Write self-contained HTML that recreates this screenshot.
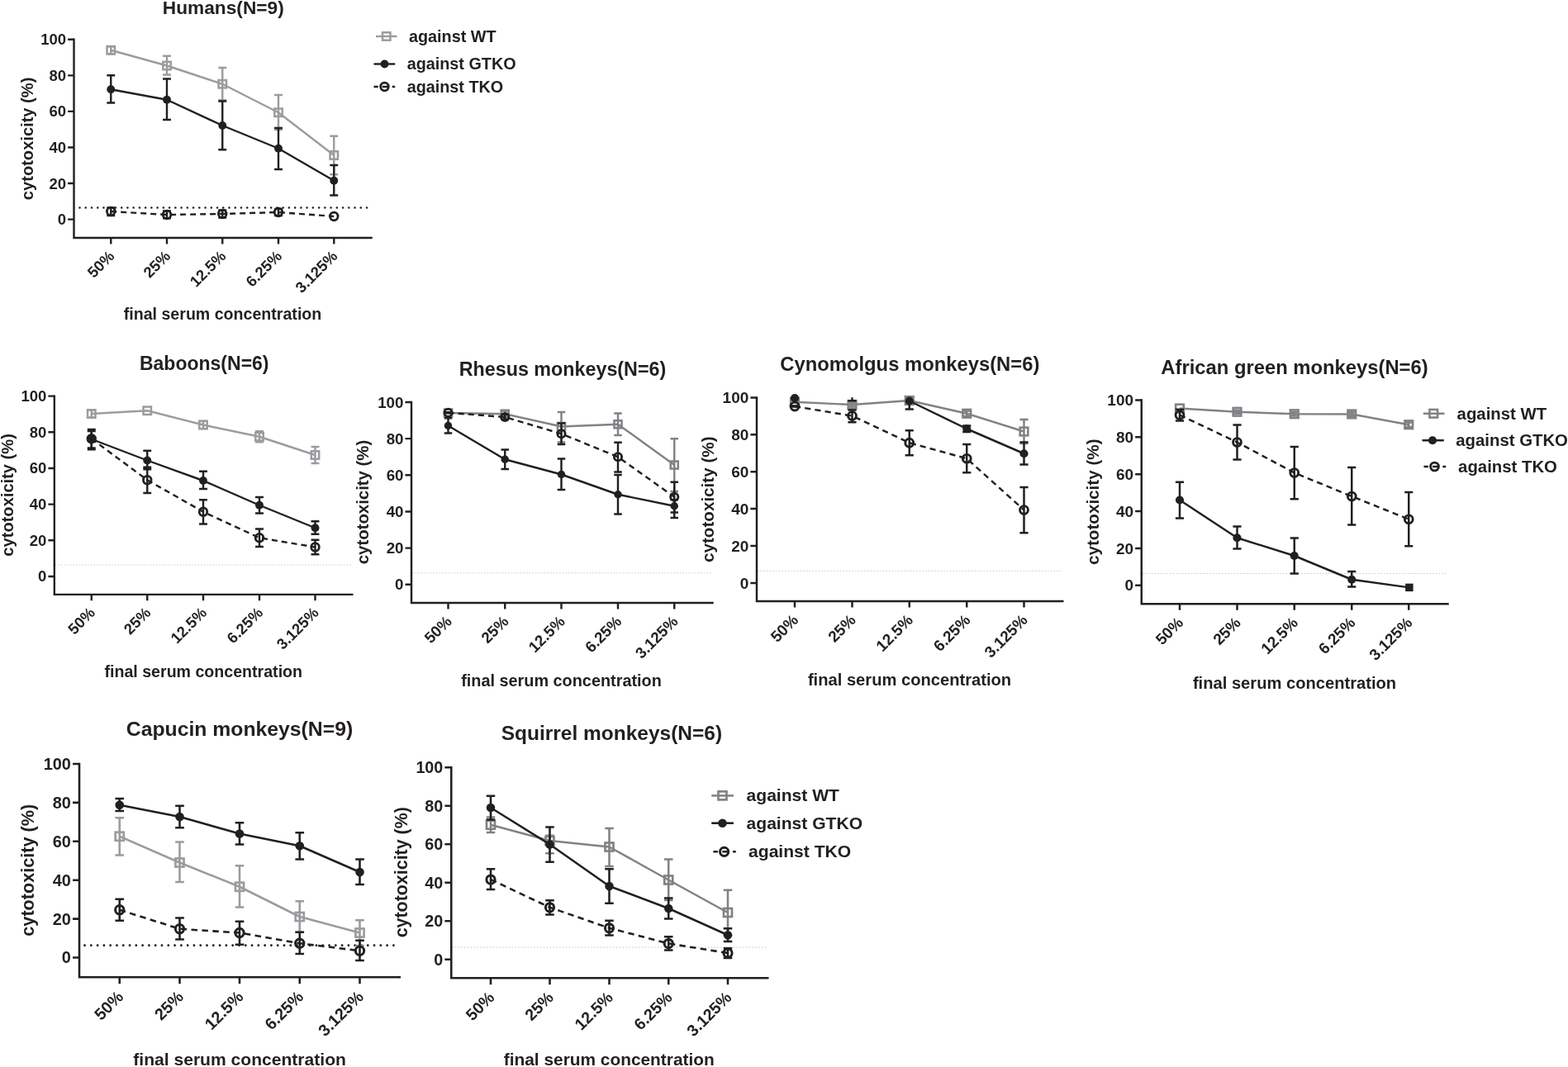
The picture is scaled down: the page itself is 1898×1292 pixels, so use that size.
<!DOCTYPE html>
<html lang="en">
<head>
<meta charset="utf-8">
<title>Cytotoxicity of human and non-human primate sera against WT, GTKO and TKO pig cells</title>
<style>
html,body{margin:0;padding:0;background:#fff;}
body{width:1898px;height:1292px;overflow:hidden;}
svg{display:block;}
svg text{font-family:'Liberation Sans', sans-serif;font-weight:bold;fill:#231f20;}
</style>
</head>
<body>
<svg width="1898" height="1292" viewBox="0 0 1898 1292">
<rect width="1898" height="1292" fill="#ffffff"/>
<g>
<line x1="96.5" y1="251.5" x2="444.5" y2="251.5" stroke="#231f20" stroke-width="2.6" stroke-linecap="round" stroke-dasharray="0.01 7.23"/>
<path d="M89.5 46.6V288H450.75" fill="none" stroke="#231f20" stroke-width="2.4" stroke-linejoin="miter" transform="translate(0 0)"/>
<path d="M82.1 265.6H89.5M82.1 222.04H89.5M82.1 178.48H89.5M82.1 134.92H89.5M82.1 91.36H89.5M82.1 47.8H89.5M134.25 288V295.4M202 288V295.4M269.25 288V295.4M337 288V295.4M404.25 288V295.4" fill="none" stroke="#231f20" stroke-width="2.4"/>
<g font-size="18.5" text-anchor="end">
<text x="80.1" y="272.06">0</text>
<text x="80.1" y="228.5">20</text>
<text x="80.1" y="184.94">40</text>
<text x="80.1" y="141.38">60</text>
<text x="80.1" y="97.82">80</text>
<text x="80.1" y="54.26">100</text>
</g>
<g font-size="18.5" text-anchor="end">
<text transform="translate(139.65 311.3) rotate(-45)">50%</text>
<text transform="translate(207.4 311.3) rotate(-45)">25%</text>
<text transform="translate(274.65 311.3) rotate(-45)">12.5%</text>
<text transform="translate(342.4 311.3) rotate(-45)">6.25%</text>
<text transform="translate(409.65 311.3) rotate(-45)">3.125%</text>
</g>
<text x="270.25" y="16.6" font-size="22.7" text-anchor="middle">Humans(N=9)</text>
<text transform="translate(40 167.9) rotate(-90)" font-size="20.1" text-anchor="middle">cytotoxicity (%)</text>
<text x="269.5" y="387" font-size="19.6" text-anchor="middle">final serum concentration</text>
<g stroke="#9a9c9f" stroke-width="2.4" fill="none">
<path d="M134.25 56.25V65.25M129.3 56.25H139.2M129.3 65.25H139.2M202 67.75V90.5M197.05 67.75H206.95M197.05 90.5H206.95M269.25 82V121.25M264.3 82H274.2M264.3 121.25H274.2M337 115V157M332.05 115H341.95M332.05 157H341.95M404.25 164.75V211.25M399.3 164.75H409.2M399.3 211.25H409.2"/>
<path d="M134.25 60.75L202 79.5L269.25 101.75L337 136.25L404.25 188" stroke-linejoin="round"/>
</g>
<rect x="129.55" y="56.05" width="9.4" height="9.4" fill="none" stroke="#9a9c9f" stroke-width="2.5"/>
<rect x="197.3" y="74.8" width="9.4" height="9.4" fill="none" stroke="#9a9c9f" stroke-width="2.5"/>
<rect x="264.55" y="97.05" width="9.4" height="9.4" fill="none" stroke="#9a9c9f" stroke-width="2.5"/>
<rect x="332.3" y="131.55" width="9.4" height="9.4" fill="none" stroke="#9a9c9f" stroke-width="2.5"/>
<rect x="399.55" y="183.3" width="9.4" height="9.4" fill="none" stroke="#9a9c9f" stroke-width="2.5"/>
<g stroke="#231f20" stroke-width="2.4" fill="none">
<path d="M134.25 91.25V124.5M129.3 91.25H139.2M129.3 124.5H139.2M202 95.5V145M197.05 95.5H206.95M197.05 145H206.95M269.25 122.5V181.25M264.3 122.5H274.2M264.3 181.25H274.2M337 155V205M332.05 155H341.95M332.05 205H341.95M404.25 200V236.5M399.3 200H409.2M399.3 236.5H409.2"/>
<path d="M134.25 108.25L202 120.75L269.25 152L337 179.75L404.25 218.75" stroke-linejoin="round"/>
</g>
<circle cx="134.25" cy="108.25" r="4.95" fill="#231f20"/>
<circle cx="202" cy="120.75" r="4.95" fill="#231f20"/>
<circle cx="269.25" cy="152" r="4.95" fill="#231f20"/>
<circle cx="337" cy="179.75" r="4.95" fill="#231f20"/>
<circle cx="404.25" cy="218.75" r="4.95" fill="#231f20"/>
<g stroke="#231f20" stroke-width="2.4" fill="none">
<path d="M134.25 251.38V261M129.3 251.38H139.2M129.3 261H139.2M202 255.5V264.25M197.05 255.5H206.95M197.05 264.25H206.95M269.25 254.5V263.5M264.3 254.5H274.2M264.3 263.5H274.2M337 253V261M332.05 253H341.95M332.05 261H341.95"/>
<path d="M134.25 256L202 260L269.25 259L337 257L404.25 262" stroke-linejoin="round" stroke-dasharray="7 5"/>
</g>
<circle cx="134.25" cy="256" r="4.8" fill="none" stroke="#231f20" stroke-width="2.8"/>
<circle cx="202" cy="260" r="4.8" fill="none" stroke="#231f20" stroke-width="2.8"/>
<circle cx="269.25" cy="259" r="4.8" fill="none" stroke="#231f20" stroke-width="2.8"/>
<circle cx="337" cy="257" r="4.8" fill="none" stroke="#231f20" stroke-width="2.8"/>
<circle cx="404.25" cy="262" r="4.8" fill="none" stroke="#231f20" stroke-width="2.8"/>
<line x1="455" y1="44" x2="480.5" y2="44" stroke="#9a9c9f" stroke-width="2.4"/>
<rect x="463.05" y="39.3" width="9.4" height="9.4" fill="none" stroke="#9a9c9f" stroke-width="2.5"/>
<text x="495" y="50.5" font-size="19.8">against WT</text>
<line x1="452.5" y1="77.5" x2="478.25" y2="77.5" stroke="#231f20" stroke-width="2.4"/>
<circle cx="465.5" cy="77.5" r="4.95" fill="#231f20"/>
<text x="492.7" y="84.1" font-size="19.8">against GTKO</text>
<line x1="452.5" y1="105" x2="478.25" y2="105" stroke="#231f20" stroke-width="2.4" stroke-dasharray="7 5" stroke-dashoffset="1.8"/>
<circle cx="465.5" cy="105" r="4.8" fill="none" stroke="#231f20" stroke-width="2.8"/>
<text x="492.7" y="111.7" font-size="19.8">against TKO</text>
</g>
<g>
<line x1="67" y1="684" x2="425" y2="684" stroke="#a9abad" stroke-width="0.9" stroke-dasharray="1 2.6"/>
<path d="M65.8 478.4V719.9H427.5" fill="none" stroke="#231f20" stroke-width="2.4" stroke-linejoin="miter" transform="translate(0 0)"/>
<path d="M58.4 698H65.8M58.4 654.32H65.8M58.4 610.64H65.8M58.4 566.96H65.8M58.4 523.28H65.8M58.4 479.6H65.8M110.75 719.9V727.3M178.25 719.9V727.3M246 719.9V727.3M314 719.9V727.3M381.5 719.9V727.3" fill="none" stroke="#231f20" stroke-width="2.4"/>
<g font-size="18.5" text-anchor="end">
<text x="56.4" y="704.46">0</text>
<text x="56.4" y="660.78">20</text>
<text x="56.4" y="617.1">40</text>
<text x="56.4" y="573.42">60</text>
<text x="56.4" y="529.74">80</text>
<text x="56.4" y="486.06">100</text>
</g>
<g font-size="18.5" text-anchor="end">
<text transform="translate(116.15 743.2) rotate(-45)">50%</text>
<text transform="translate(183.65 743.2) rotate(-45)">25%</text>
<text transform="translate(251.4 743.2) rotate(-45)">12.5%</text>
<text transform="translate(319.4 743.2) rotate(-45)">6.25%</text>
<text transform="translate(386.9 743.2) rotate(-45)">3.125%</text>
</g>
<text x="247.25" y="448" font-size="23" text-anchor="middle">Baboons(N=6)</text>
<text transform="translate(16.4 599.4) rotate(-90)" font-size="20.1" text-anchor="middle">cytotoxicity (%)</text>
<text x="246.25" y="820" font-size="19.6" text-anchor="middle">final serum concentration</text>
<g stroke="#9a9c9f" stroke-width="2.4" fill="none">
<path d="M110.75 496.4V505.6M105.8 496.4H115.7M105.8 505.6H115.7M246 509.9V519.1M241.05 509.9H250.95M241.05 519.1H250.95M314 522.1V535.4M309.05 522.1H318.95M309.05 535.4H318.95M381.5 541V561M376.55 541H386.45M376.55 561H386.45"/>
<path d="M110.75 501L178.25 497.25L246 514.5L314 528.75L381.5 551" stroke-linejoin="round"/>
</g>
<rect x="106.05" y="496.3" width="9.4" height="9.4" fill="none" stroke="#9a9c9f" stroke-width="2.5"/>
<rect x="173.55" y="492.55" width="9.4" height="9.4" fill="none" stroke="#9a9c9f" stroke-width="2.5"/>
<rect x="241.3" y="509.8" width="9.4" height="9.4" fill="none" stroke="#9a9c9f" stroke-width="2.5"/>
<rect x="309.3" y="524.05" width="9.4" height="9.4" fill="none" stroke="#9a9c9f" stroke-width="2.5"/>
<rect x="376.8" y="546.3" width="9.4" height="9.4" fill="none" stroke="#9a9c9f" stroke-width="2.5"/>
<g stroke="#231f20" stroke-width="2.4" fill="none">
<path d="M110.75 520V544.25M105.8 520H115.7M105.8 544.25H115.7M178.25 545.75V568.25M173.3 545.75H183.2M173.3 568.25H183.2M246 570.75V592M241.05 570.75H250.95M241.05 592H250.95M314 602V621.5M309.05 602H318.95M309.05 621.5H318.95M381.5 631.25V646.75M376.55 631.25H386.45M376.55 646.75H386.45"/>
<path d="M110.75 531.75L178.25 557.5L246 582L314 611.75L381.5 639.25" stroke-linejoin="round"/>
</g>
<circle cx="110.75" cy="531.75" r="4.95" fill="#231f20"/>
<circle cx="178.25" cy="557.5" r="4.95" fill="#231f20"/>
<circle cx="246" cy="582" r="4.95" fill="#231f20"/>
<circle cx="314" cy="611.75" r="4.95" fill="#231f20"/>
<circle cx="381.5" cy="639.25" r="4.95" fill="#231f20"/>
<g stroke="#231f20" stroke-width="2.4" fill="none">
<path d="M110.75 522V542.5M105.8 522H115.7M105.8 542.5H115.7M178.25 565.75V597M173.3 565.75H183.2M173.3 597H183.2M246 605.25V634.5M241.05 605.25H250.95M241.05 634.5H250.95M314 640.5V662M309.05 640.5H318.95M309.05 662H318.95M381.5 653.75V671.25M376.55 653.75H386.45M376.55 671.25H386.45"/>
<path d="M110.75 531.25L178.25 581.25L246 619.75L314 651.25L381.5 662.5" stroke-linejoin="round" stroke-dasharray="7 5"/>
</g>
<circle cx="110.75" cy="531.25" r="4.8" fill="none" stroke="#231f20" stroke-width="2.8"/>
<circle cx="178.25" cy="581.25" r="4.8" fill="none" stroke="#231f20" stroke-width="2.8"/>
<circle cx="246" cy="619.75" r="4.8" fill="none" stroke="#231f20" stroke-width="2.8"/>
<circle cx="314" cy="651.25" r="4.8" fill="none" stroke="#231f20" stroke-width="2.8"/>
<circle cx="381.5" cy="662.5" r="4.8" fill="none" stroke="#231f20" stroke-width="2.8"/>
</g>
<g>
<line x1="499" y1="693.75" x2="861" y2="693.75" stroke="#a9abad" stroke-width="0.91" stroke-dasharray="1.01 2.63"/>
<path d="M498 485.78V730H863.75" fill="none" stroke="#231f20" stroke-width="2.43" stroke-linejoin="miter" transform="translate(0 0)"/>
<path d="M490.5 707.75H498M490.5 663.6H498M490.5 619.45H498M490.5 575.3H498M490.5 531.15H498M490.5 487H498M542.5 730V737.5M611.25 730V737.5M679.5 730V737.5M748 730V737.5M816.25 730V737.5" fill="none" stroke="#231f20" stroke-width="2.43"/>
<g font-size="18.74" text-anchor="end">
<text x="488.48" y="714.29">0</text>
<text x="488.48" y="670.14">20</text>
<text x="488.48" y="625.99">40</text>
<text x="488.48" y="581.84">60</text>
<text x="488.48" y="537.69">80</text>
<text x="488.48" y="493.54">100</text>
</g>
<g font-size="18.74" text-anchor="end">
<text transform="translate(547.97 753.6) rotate(-45)">50%</text>
<text transform="translate(616.72 753.6) rotate(-45)">25%</text>
<text transform="translate(684.97 753.6) rotate(-45)">12.5%</text>
<text transform="translate(753.47 753.6) rotate(-45)">6.25%</text>
<text transform="translate(821.72 753.6) rotate(-45)">3.125%</text>
</g>
<text x="681" y="455" font-size="23.3" text-anchor="middle">Rhesus monkeys(N=6)</text>
<text transform="translate(446 608) rotate(-90)" font-size="20.36" text-anchor="middle">cytotoxicity (%)</text>
<text x="679.5" y="831" font-size="19.85" text-anchor="middle">final serum concentration</text>
<g stroke="#808285" stroke-width="2.43" fill="none">
<path d="M611.25 497.5V505M606.49 497.5H616.01M606.49 505H616.01M679.5 499V535.5M674.74 499H684.26M674.74 535.5H684.26M748 500.5V527M743.24 500.5H752.76M743.24 527H752.76M816.25 531.25V595M811.49 531.25H821.01M811.49 595H821.01"/>
<path d="M542.5 500L611.25 501.25L679.5 516.5L748 513.75L816.25 563" stroke-linejoin="round"/>
</g>
<rect x="537.98" y="495.48" width="9.05" height="9.05" fill="none" stroke="#808285" stroke-width="2.53"/>
<rect x="606.73" y="496.73" width="9.05" height="9.05" fill="none" stroke="#808285" stroke-width="2.53"/>
<rect x="674.98" y="511.98" width="9.05" height="9.05" fill="none" stroke="#808285" stroke-width="2.53"/>
<rect x="743.48" y="509.23" width="9.05" height="9.05" fill="none" stroke="#808285" stroke-width="2.53"/>
<rect x="811.73" y="558.48" width="9.05" height="9.05" fill="none" stroke="#808285" stroke-width="2.53"/>
<g stroke="#231f20" stroke-width="2.43" fill="none">
<path d="M542.5 506.25V524.5M537.74 506.25H547.26M537.74 524.5H547.26M611.25 544.5V568M606.49 544.5H616.01M606.49 568H616.01M679.5 555.5V593M674.74 555.5H684.26M674.74 593H684.26M748 575V622.5M743.24 575H752.76M743.24 622.5H752.76M816.25 605V620.5M811.49 605H821.01M811.49 620.5H821.01"/>
<path d="M542.5 515.5L611.25 556.25L679.5 574.5L748 598.75L816.25 612.75" stroke-linejoin="round"/>
</g>
<circle cx="542.5" cy="515.5" r="4.76" fill="#231f20"/>
<circle cx="611.25" cy="556.25" r="4.76" fill="#231f20"/>
<circle cx="679.5" cy="574.5" r="4.76" fill="#231f20"/>
<circle cx="748" cy="598.75" r="4.76" fill="#231f20"/>
<circle cx="816.25" cy="612.75" r="4.76" fill="#231f20"/>
<g stroke="#231f20" stroke-width="2.43" fill="none">
<path d="M542.5 499.25V500.25M537.74 499.25H547.26M537.74 500.25H547.26M611.25 502V508M606.49 502H616.01M606.49 508H616.01M679.5 512.5V538M674.74 512.5H684.26M674.74 538H684.26M748 535.75V571.5M743.24 535.75H752.76M743.24 571.5H752.76M816.25 583.75V627M811.49 583.75H821.01M811.49 627H821.01"/>
<path d="M542.5 499.75L611.25 505L679.5 525.25L748 553.25L816.25 601.75" stroke-linejoin="round" stroke-dasharray="7.09 5.06"/>
</g>
<circle cx="542.5" cy="499.75" r="4.62" fill="none" stroke="#231f20" stroke-width="2.84"/>
<circle cx="611.25" cy="505" r="4.62" fill="none" stroke="#231f20" stroke-width="2.84"/>
<circle cx="679.5" cy="525.25" r="4.62" fill="none" stroke="#231f20" stroke-width="2.84"/>
<circle cx="748" cy="553.25" r="4.62" fill="none" stroke="#231f20" stroke-width="2.84"/>
<circle cx="816.25" cy="601.75" r="4.62" fill="none" stroke="#231f20" stroke-width="2.84"/>
</g>
<g>
<line x1="917" y1="691.25" x2="1286" y2="691.25" stroke="#a9abad" stroke-width="0.93" stroke-dasharray="1.03 2.67"/>
<path d="M916 480.17V728H1287.5" fill="none" stroke="#231f20" stroke-width="2.47" stroke-linejoin="miter" transform="translate(0 0)"/>
<path d="M908.39 705.9H916M908.39 661H916M908.39 616.1H916M908.39 571.2H916M908.39 526.3H916M908.39 481.4H916M962 728V735.61M1031.5 728V735.61M1100.75 728V735.61M1170.25 728V735.61M1239.5 728V735.61" fill="none" stroke="#231f20" stroke-width="2.47"/>
<g font-size="19.02" text-anchor="end">
<text x="906.34" y="712.54">0</text>
<text x="906.34" y="667.64">20</text>
<text x="906.34" y="622.74">40</text>
<text x="906.34" y="577.84">60</text>
<text x="906.34" y="532.94">80</text>
<text x="906.34" y="488.04">100</text>
</g>
<g font-size="19.02" text-anchor="end">
<text transform="translate(967.55 751.95) rotate(-45)">50%</text>
<text transform="translate(1037.05 751.95) rotate(-45)">25%</text>
<text transform="translate(1106.3 751.95) rotate(-45)">12.5%</text>
<text transform="translate(1175.8 751.95) rotate(-45)">6.25%</text>
<text transform="translate(1245.05 751.95) rotate(-45)">3.125%</text>
</g>
<text x="1101.3" y="448.75" font-size="23.8" text-anchor="middle">Cynomolgus monkeys(N=6)</text>
<text transform="translate(863.75 604.75) rotate(-90)" font-size="20.66" text-anchor="middle">cytotoxicity (%)</text>
<text x="1101" y="830" font-size="20.15" text-anchor="middle">final serum concentration</text>
<g stroke="#808285" stroke-width="2.47" fill="none">
<path d="M1031.5 487.5V492.5M1026.41 487.5H1036.59M1026.41 492.5H1036.59M1100.75 482.5V487.5M1095.66 482.5H1105.84M1095.66 487.5H1105.84M1170.25 497.5V504M1165.16 497.5H1175.34M1165.16 504H1175.34M1239.5 508V537M1234.41 508H1244.59M1234.41 537H1244.59"/>
<path d="M962 486.75L1031.5 490L1100.75 485L1170.25 500.75L1239.5 522.5" stroke-linejoin="round"/>
</g>
<rect x="957.17" y="481.92" width="9.66" height="9.66" fill="none" stroke="#808285" stroke-width="2.57"/>
<rect x="1026.67" y="485.17" width="9.66" height="9.66" fill="none" stroke="#808285" stroke-width="2.57"/>
<rect x="1095.92" y="480.17" width="9.66" height="9.66" fill="none" stroke="#808285" stroke-width="2.57"/>
<rect x="1165.42" y="495.92" width="9.66" height="9.66" fill="none" stroke="#808285" stroke-width="2.57"/>
<rect x="1234.67" y="517.67" width="9.66" height="9.66" fill="none" stroke="#808285" stroke-width="2.57"/>
<g stroke="#231f20" stroke-width="2.47" fill="none">
<path d="M1031.5 481.2V485.2M1026.41 485.2H1036.59M1100.75 481.5V495.5M1095.66 495.5H1105.84M1170.25 515.5V523M1165.16 515.5H1175.34M1165.16 523H1175.34M1239.5 535.5V562.5M1234.41 535.5H1244.59M1234.41 562.5H1244.59"/>
<path d="M1100.75 485.5L1170.25 519.25L1239.5 549.25" stroke-linejoin="round"/>
</g>
<circle cx="962" cy="482.1" r="5.09" fill="#231f20"/>
<circle cx="1100.75" cy="485.5" r="5.09" fill="#231f20"/>
<circle cx="1170.25" cy="519.25" r="5.09" fill="#231f20"/>
<circle cx="1239.5" cy="549.25" r="5.09" fill="#231f20"/>
<g stroke="#231f20" stroke-width="2.47" fill="none">
<path d="M962 491.6V492.6M956.91 491.6H967.09M956.91 492.6H967.09M1031.5 496.4V511.2M1026.41 496.4H1036.59M1026.41 511.2H1036.59M1100.75 521.2V551.2M1095.66 521.2H1105.84M1095.66 551.2H1105.84M1170.25 538V572.25M1165.16 538H1175.34M1165.16 572.25H1175.34M1239.5 590V645.25M1234.41 590H1244.59M1234.41 645.25H1244.59"/>
<path d="M962 492.1L1031.5 503.6L1100.75 536.2L1170.25 555.25L1239.5 617.5" stroke-linejoin="round" stroke-dasharray="7.2 5.14"/>
</g>
<circle cx="962" cy="492.1" r="4.93" fill="none" stroke="#231f20" stroke-width="2.88"/>
<circle cx="1031.5" cy="503.6" r="4.93" fill="none" stroke="#231f20" stroke-width="2.88"/>
<circle cx="1100.75" cy="536.2" r="4.93" fill="none" stroke="#231f20" stroke-width="2.88"/>
<circle cx="1170.25" cy="555.25" r="4.93" fill="none" stroke="#231f20" stroke-width="2.88"/>
<circle cx="1239.5" cy="617.5" r="4.93" fill="none" stroke="#231f20" stroke-width="2.88"/>
</g>
<g>
<line x1="1383" y1="694.5" x2="1752" y2="694.5" stroke="#a9abad" stroke-width="0.93" stroke-dasharray="1.03 2.67"/>
<path d="M1381.75 483.27V731.25H1753.75" fill="none" stroke="#231f20" stroke-width="2.47" stroke-linejoin="miter" transform="translate(0 0)"/>
<path d="M1374.14 708.75H1381.75M1374.14 663.9H1381.75M1374.14 619.05H1381.75M1374.14 574.2H1381.75M1374.14 529.35H1381.75M1374.14 484.5H1381.75M1428 731.25V738.86M1497.5 731.25V738.86M1566.75 731.25V738.86M1636.25 731.25V738.86M1705.25 731.25V738.86" fill="none" stroke="#231f20" stroke-width="2.47"/>
<g font-size="19.02" text-anchor="end">
<text x="1372.09" y="715.39">0</text>
<text x="1372.09" y="670.54">20</text>
<text x="1372.09" y="625.69">40</text>
<text x="1372.09" y="580.84">60</text>
<text x="1372.09" y="535.99">80</text>
<text x="1372.09" y="491.14">100</text>
</g>
<g font-size="19.02" text-anchor="end">
<text transform="translate(1433.55 755.2) rotate(-45)">50%</text>
<text transform="translate(1503.05 755.2) rotate(-45)">25%</text>
<text transform="translate(1572.3 755.2) rotate(-45)">12.5%</text>
<text transform="translate(1641.8 755.2) rotate(-45)">6.25%</text>
<text transform="translate(1710.8 755.2) rotate(-45)">3.125%</text>
</g>
<text x="1567" y="452.5" font-size="23.8" text-anchor="middle">African green monkeys(N=6)</text>
<text transform="translate(1329.5 607.75) rotate(-90)" font-size="20.66" text-anchor="middle">cytotoxicity (%)</text>
<text x="1567" y="833.6" font-size="20.15" text-anchor="middle">final serum concentration</text>
<g stroke="#808285" stroke-width="2.47" fill="none">
<path d="M1497.5 496.75V500.75M1492.41 496.75H1502.59M1492.41 500.75H1502.59M1566.75 499V503.5M1561.66 499H1571.84M1561.66 503.5H1571.84M1636.25 499.25V503.75M1631.16 499.25H1641.34M1631.16 503.75H1641.34M1705.25 511.5V517M1700.16 511.5H1710.34M1700.16 517H1710.34"/>
<path d="M1428 494.5L1497.5 498.75L1566.75 501.25L1636.25 501.5L1705.25 514.25" stroke-linejoin="round"/>
</g>
<rect x="1423.17" y="489.67" width="9.66" height="9.66" fill="none" stroke="#808285" stroke-width="2.57"/>
<rect x="1492.67" y="493.92" width="9.66" height="9.66" fill="none" stroke="#808285" stroke-width="2.57"/>
<rect x="1561.92" y="496.42" width="9.66" height="9.66" fill="none" stroke="#808285" stroke-width="2.57"/>
<rect x="1631.42" y="496.67" width="9.66" height="9.66" fill="none" stroke="#808285" stroke-width="2.57"/>
<rect x="1700.42" y="509.42" width="9.66" height="9.66" fill="none" stroke="#808285" stroke-width="2.57"/>
<g stroke="#231f20" stroke-width="2.47" fill="none">
<path d="M1428 583.75V627.5M1422.91 583.75H1433.09M1422.91 627.5H1433.09M1497.5 637.5V664.5M1492.41 637.5H1502.59M1492.41 664.5H1502.59M1566.75 651.5V694.5M1561.66 651.5H1571.84M1561.66 694.5H1571.84M1636.25 692V710.5M1631.16 692H1641.34M1631.16 710.5H1641.34"/>
<path d="M1428 605.5L1497.5 651.25L1566.75 673L1636.25 701.75L1705.88 711.38" stroke-linejoin="round"/>
</g>
<circle cx="1428" cy="605.5" r="5.09" fill="#231f20"/>
<circle cx="1497.5" cy="651.25" r="5.09" fill="#231f20"/>
<circle cx="1566.75" cy="673" r="5.09" fill="#231f20"/>
<circle cx="1636.25" cy="701.75" r="5.09" fill="#231f20"/>
<rect x="1701.15" y="706.65" width="9.46" height="9.46" fill="#231f20"/>
<g stroke="#231f20" stroke-width="2.47" fill="none">
<path d="M1428 495.75V509.5M1422.91 495.75H1433.09M1422.91 509.5H1433.09M1497.5 514.5V556.5M1492.41 514.5H1502.59M1492.41 556.5H1502.59M1566.75 541V604.25M1561.66 541H1571.84M1561.66 604.25H1571.84M1636.25 566V635.5M1631.16 566H1641.34M1631.16 635.5H1641.34M1705.25 596V661.25M1700.16 596H1710.34M1700.16 661.25H1710.34"/>
<path d="M1428 502.5L1497.5 535.5L1566.75 572.5L1636.25 601L1705.25 628.75" stroke-linejoin="round" stroke-dasharray="7.2 5.14"/>
</g>
<circle cx="1428" cy="502.5" r="4.93" fill="none" stroke="#231f20" stroke-width="2.88"/>
<circle cx="1497.5" cy="535.5" r="4.93" fill="none" stroke="#231f20" stroke-width="2.88"/>
<circle cx="1566.75" cy="572.5" r="4.93" fill="none" stroke="#231f20" stroke-width="2.88"/>
<circle cx="1636.25" cy="601" r="4.93" fill="none" stroke="#231f20" stroke-width="2.88"/>
<circle cx="1705.25" cy="628.75" r="4.93" fill="none" stroke="#231f20" stroke-width="2.88"/>
<line x1="1722.75" y1="500.75" x2="1748.5" y2="500.75" stroke="#808285" stroke-width="2.47"/>
<rect x="1730.42" y="495.92" width="9.66" height="9.66" fill="none" stroke="#808285" stroke-width="2.57"/>
<text x="1763.6" y="507.7" font-size="20.35">against WT</text>
<line x1="1721.5" y1="533.25" x2="1747.75" y2="533.25" stroke="#231f20" stroke-width="2.47"/>
<circle cx="1734" cy="533.25" r="5.09" fill="#231f20"/>
<text x="1762.3" y="539.7" font-size="20.35">against GTKO</text>
<line x1="1723.5" y1="565" x2="1750.25" y2="565" stroke="#231f20" stroke-width="2.47" stroke-dasharray="7.2 5.14" stroke-dashoffset="1.85"/>
<circle cx="1736.5" cy="565" r="4.93" fill="none" stroke="#231f20" stroke-width="2.88"/>
<text x="1765.1" y="571.7" font-size="20.35">against TKO</text>
</g>
<g>
<line x1="102.5" y1="1144.75" x2="478" y2="1144.75" stroke="#231f20" stroke-width="2.8" stroke-linecap="round" stroke-dasharray="0.01 7.78"/>
<path d="M96 923.71V1183.25H485" fill="none" stroke="#231f20" stroke-width="2.58" stroke-linejoin="miter" transform="translate(0 0)"/>
<path d="M88.04 1159.5H96M88.04 1112.6H96M88.04 1065.7H96M88.04 1018.8H96M88.04 971.9H96M88.04 925H96M144.75 1183.25V1191.21M217.5 1183.25V1191.21M290 1183.25V1191.21M362.75 1183.25V1191.21M435.5 1183.25V1191.21" fill="none" stroke="#231f20" stroke-width="2.58"/>
<g font-size="19.91" text-anchor="end">
<text x="85.89" y="1166.45">0</text>
<text x="85.89" y="1119.55">20</text>
<text x="85.89" y="1072.65">40</text>
<text x="85.89" y="1025.75">60</text>
<text x="85.89" y="978.85">80</text>
<text x="85.89" y="931.95">100</text>
</g>
<g font-size="19.91" text-anchor="end">
<text transform="translate(150.56 1208.32) rotate(-45)">50%</text>
<text transform="translate(223.31 1208.32) rotate(-45)">25%</text>
<text transform="translate(295.81 1208.32) rotate(-45)">12.5%</text>
<text transform="translate(368.56 1208.32) rotate(-45)">6.25%</text>
<text transform="translate(441.31 1208.32) rotate(-45)">3.125%</text>
</g>
<text x="290" y="890.5" font-size="24.75" text-anchor="middle">Capucin monkeys(N=9)</text>
<text transform="translate(41.25 1053.75) rotate(-90)" font-size="21.63" text-anchor="middle">cytotoxicity (%)</text>
<text x="290.1" y="1289.75" font-size="21.09" text-anchor="middle">final serum concentration</text>
<g stroke="#9a9c9f" stroke-width="2.58" fill="none">
<path d="M144.75 990.25V1035.5M139.42 990.25H150.08M139.42 1035.5H150.08M217.5 1019.5V1068M212.17 1019.5H222.83M212.17 1068H222.83M290 1048.25V1098.5M284.67 1048.25H295.33M284.67 1098.5H295.33M362.75 1091.25V1128.75M357.42 1091.25H368.08M357.42 1128.75H368.08M435.5 1114.25V1145M430.17 1114.25H440.83M430.17 1145H440.83"/>
<path d="M144.75 1012.75L217.5 1044.5L290 1073.75L362.75 1110L435.5 1129.5" stroke-linejoin="round"/>
</g>
<rect x="139.69" y="1007.69" width="10.11" height="10.11" fill="none" stroke="#9a9c9f" stroke-width="2.69"/>
<rect x="212.44" y="1039.44" width="10.11" height="10.11" fill="none" stroke="#9a9c9f" stroke-width="2.69"/>
<rect x="284.94" y="1068.69" width="10.11" height="10.11" fill="none" stroke="#9a9c9f" stroke-width="2.69"/>
<rect x="357.69" y="1104.94" width="10.11" height="10.11" fill="none" stroke="#9a9c9f" stroke-width="2.69"/>
<rect x="430.44" y="1124.44" width="10.11" height="10.11" fill="none" stroke="#9a9c9f" stroke-width="2.69"/>
<g stroke="#231f20" stroke-width="2.58" fill="none">
<path d="M144.75 967V982M139.42 967H150.08M139.42 982H150.08M217.5 975.75V1002.25M212.17 975.75H222.83M212.17 1002.25H222.83M290 996.25V1022.5M284.67 996.25H295.33M284.67 1022.5H295.33M362.75 1008.25V1040.5M357.42 1008.25H368.08M357.42 1040.5H368.08M435.5 1040.5V1071M430.17 1040.5H440.83M430.17 1071H440.83"/>
<path d="M144.75 974.75L217.5 989L290 1009.5L362.75 1024.25L435.5 1056" stroke-linejoin="round"/>
</g>
<circle cx="144.75" cy="974.75" r="5.33" fill="#231f20"/>
<circle cx="217.5" cy="989" r="5.33" fill="#231f20"/>
<circle cx="290" cy="1009.5" r="5.33" fill="#231f20"/>
<circle cx="362.75" cy="1024.25" r="5.33" fill="#231f20"/>
<circle cx="435.5" cy="1056" r="5.33" fill="#231f20"/>
<g stroke="#231f20" stroke-width="2.58" fill="none">
<path d="M144.75 1088.75V1114.75M139.42 1088.75H150.08M139.42 1114.75H150.08M217.5 1111.5V1137.5M212.17 1111.5H222.83M212.17 1137.5H222.83M290 1115.75V1143.75M284.67 1115.75H295.33M284.67 1143.75H295.33M362.75 1128.75V1155M357.42 1128.75H368.08M357.42 1155H368.08M435.5 1138.75V1163M430.17 1138.75H440.83M430.17 1163H440.83"/>
<path d="M144.75 1101.75L217.5 1124.75L290 1129.5L362.75 1142.25L435.5 1151.25" stroke-linejoin="round" stroke-dasharray="7.53 5.38"/>
</g>
<circle cx="144.75" cy="1101.75" r="5.16" fill="none" stroke="#231f20" stroke-width="3.01"/>
<circle cx="217.5" cy="1124.75" r="5.16" fill="none" stroke="#231f20" stroke-width="3.01"/>
<circle cx="290" cy="1129.5" r="5.16" fill="none" stroke="#231f20" stroke-width="3.01"/>
<circle cx="362.75" cy="1142.25" r="5.16" fill="none" stroke="#231f20" stroke-width="3.01"/>
<circle cx="435.5" cy="1151.25" r="5.16" fill="none" stroke="#231f20" stroke-width="3.01"/>
</g>
<g>
<line x1="547" y1="1147" x2="930" y2="1147" stroke="#a9abad" stroke-width="0.96" stroke-dasharray="1.06 2.77"/>
<path d="M546.25 927.97V1184.25H930.5" fill="none" stroke="#231f20" stroke-width="2.56" stroke-linejoin="miter" transform="translate(0 0)"/>
<path d="M538.37 1161.75H546.25M538.37 1115.25H546.25M538.37 1068.75H546.25M538.37 1022.25H546.25M538.37 975.75H546.25M538.37 929.25H546.25M594 1184.25V1192.13M665.5 1184.25V1192.13M737.5 1184.25V1192.13M809.25 1184.25V1192.13M881 1184.25V1192.13" fill="none" stroke="#231f20" stroke-width="2.56"/>
<g font-size="19.7" text-anchor="end">
<text x="536.24" y="1168.63">0</text>
<text x="536.24" y="1122.13">20</text>
<text x="536.24" y="1075.63">40</text>
<text x="536.24" y="1029.13">60</text>
<text x="536.24" y="982.63">80</text>
<text x="536.24" y="936.13">100</text>
</g>
<g font-size="19.7" text-anchor="end">
<text transform="translate(599.75 1209.06) rotate(-45)">50%</text>
<text transform="translate(671.25 1209.06) rotate(-45)">25%</text>
<text transform="translate(743.25 1209.06) rotate(-45)">12.5%</text>
<text transform="translate(815 1209.06) rotate(-45)">6.25%</text>
<text transform="translate(886.75 1209.06) rotate(-45)">3.125%</text>
</g>
<text x="740.4" y="896.25" font-size="24.49" text-anchor="middle">Squirrel monkeys(N=6)</text>
<text transform="translate(492.5 1056.25) rotate(-90)" font-size="21.41" text-anchor="middle">cytotoxicity (%)</text>
<text x="737.25" y="1290.25" font-size="20.87" text-anchor="middle">final serum concentration</text>
<g stroke="#808285" stroke-width="2.56" fill="none">
<path d="M594 989.5V1008M588.73 989.5H599.27M588.73 1008H599.27M665.5 1011.75V1033.25M660.23 1011.75H670.77M660.23 1033.25H670.77M737.5 1003V1049M732.23 1003H742.77M732.23 1049H742.77M809.25 1040.5V1090M803.98 1040.5H814.52M803.98 1090H814.52M881 1077.75V1132.5M875.73 1077.75H886.27M875.73 1132.5H886.27"/>
<path d="M594 998.75L665.5 1018L737.5 1025.5L809.25 1065.5L881 1105" stroke-linejoin="round"/>
</g>
<rect x="588.99" y="993.74" width="10.01" height="10.01" fill="none" stroke="#808285" stroke-width="2.66"/>
<rect x="660.49" y="1012.99" width="10.01" height="10.01" fill="none" stroke="#808285" stroke-width="2.66"/>
<rect x="732.49" y="1020.49" width="10.01" height="10.01" fill="none" stroke="#808285" stroke-width="2.66"/>
<rect x="804.24" y="1060.49" width="10.01" height="10.01" fill="none" stroke="#808285" stroke-width="2.66"/>
<rect x="875.99" y="1099.99" width="10.01" height="10.01" fill="none" stroke="#808285" stroke-width="2.66"/>
<g stroke="#231f20" stroke-width="2.56" fill="none">
<path d="M594 963.75V992.5M588.73 963.75H599.27M588.73 992.5H599.27M665.5 1001.5V1043.75M660.23 1001.5H670.77M660.23 1043.75H670.77M737.5 1052.25V1093.75M732.23 1052.25H742.77M732.23 1093.75H742.77M809.25 1087.5V1112.5M803.98 1087.5H814.52M803.98 1112.5H814.52M881 1124.25V1140M875.73 1124.25H886.27M875.73 1140H886.27"/>
<path d="M594 978L665.5 1022.5L737.5 1073L809.25 1100L881 1132.25" stroke-linejoin="round"/>
</g>
<circle cx="594" cy="978" r="5.27" fill="#231f20"/>
<circle cx="665.5" cy="1022.5" r="5.27" fill="#231f20"/>
<circle cx="737.5" cy="1073" r="5.27" fill="#231f20"/>
<circle cx="809.25" cy="1100" r="5.27" fill="#231f20"/>
<circle cx="881" cy="1132.25" r="5.27" fill="#231f20"/>
<g stroke="#231f20" stroke-width="2.56" fill="none">
<path d="M594 1052.25V1077M588.73 1052.25H599.27M588.73 1077H599.27M665.5 1090.25V1107.5M660.23 1090.25H670.77M660.23 1107.5H670.77M737.5 1114.75V1132.5M732.23 1114.75H742.77M732.23 1132.5H742.77M809.25 1134.25V1150.5M803.98 1134.25H814.52M803.98 1150.5H814.52M881 1148.25V1160M875.73 1148.25H886.27M875.73 1160H886.27"/>
<path d="M594 1065L665.5 1098.75L737.5 1123.75L809.25 1142.5L881 1154" stroke-linejoin="round" stroke-dasharray="7.46 5.32"/>
</g>
<circle cx="594" cy="1065" r="5.11" fill="none" stroke="#231f20" stroke-width="2.98"/>
<circle cx="665.5" cy="1098.75" r="5.11" fill="none" stroke="#231f20" stroke-width="2.98"/>
<circle cx="737.5" cy="1123.75" r="5.11" fill="none" stroke="#231f20" stroke-width="2.98"/>
<circle cx="809.25" cy="1142.5" r="5.11" fill="none" stroke="#231f20" stroke-width="2.98"/>
<circle cx="881" cy="1154" r="5.11" fill="none" stroke="#231f20" stroke-width="2.98"/>
<line x1="861.25" y1="963.4" x2="888" y2="963.4" stroke="#808285" stroke-width="2.56"/>
<rect x="869.49" y="958.39" width="10.01" height="10.01" fill="none" stroke="#808285" stroke-width="2.66"/>
<text x="903.55" y="969.5" font-size="21.09">against WT</text>
<line x1="861.25" y1="996.7" x2="888" y2="996.7" stroke="#231f20" stroke-width="2.56"/>
<circle cx="874.5" cy="996.7" r="5.27" fill="#231f20"/>
<text x="903.55" y="1003.5" font-size="21.09">against GTKO</text>
<line x1="863.4" y1="1031.3" x2="890.75" y2="1031.3" stroke="#231f20" stroke-width="2.56" stroke-dasharray="7.46 5.32" stroke-dashoffset="1.92"/>
<circle cx="876.6" cy="1031.3" r="5.11" fill="none" stroke="#231f20" stroke-width="2.98"/>
<text x="906.05" y="1038" font-size="21.09">against TKO</text>
</g>
</svg>
</body>
</html>
